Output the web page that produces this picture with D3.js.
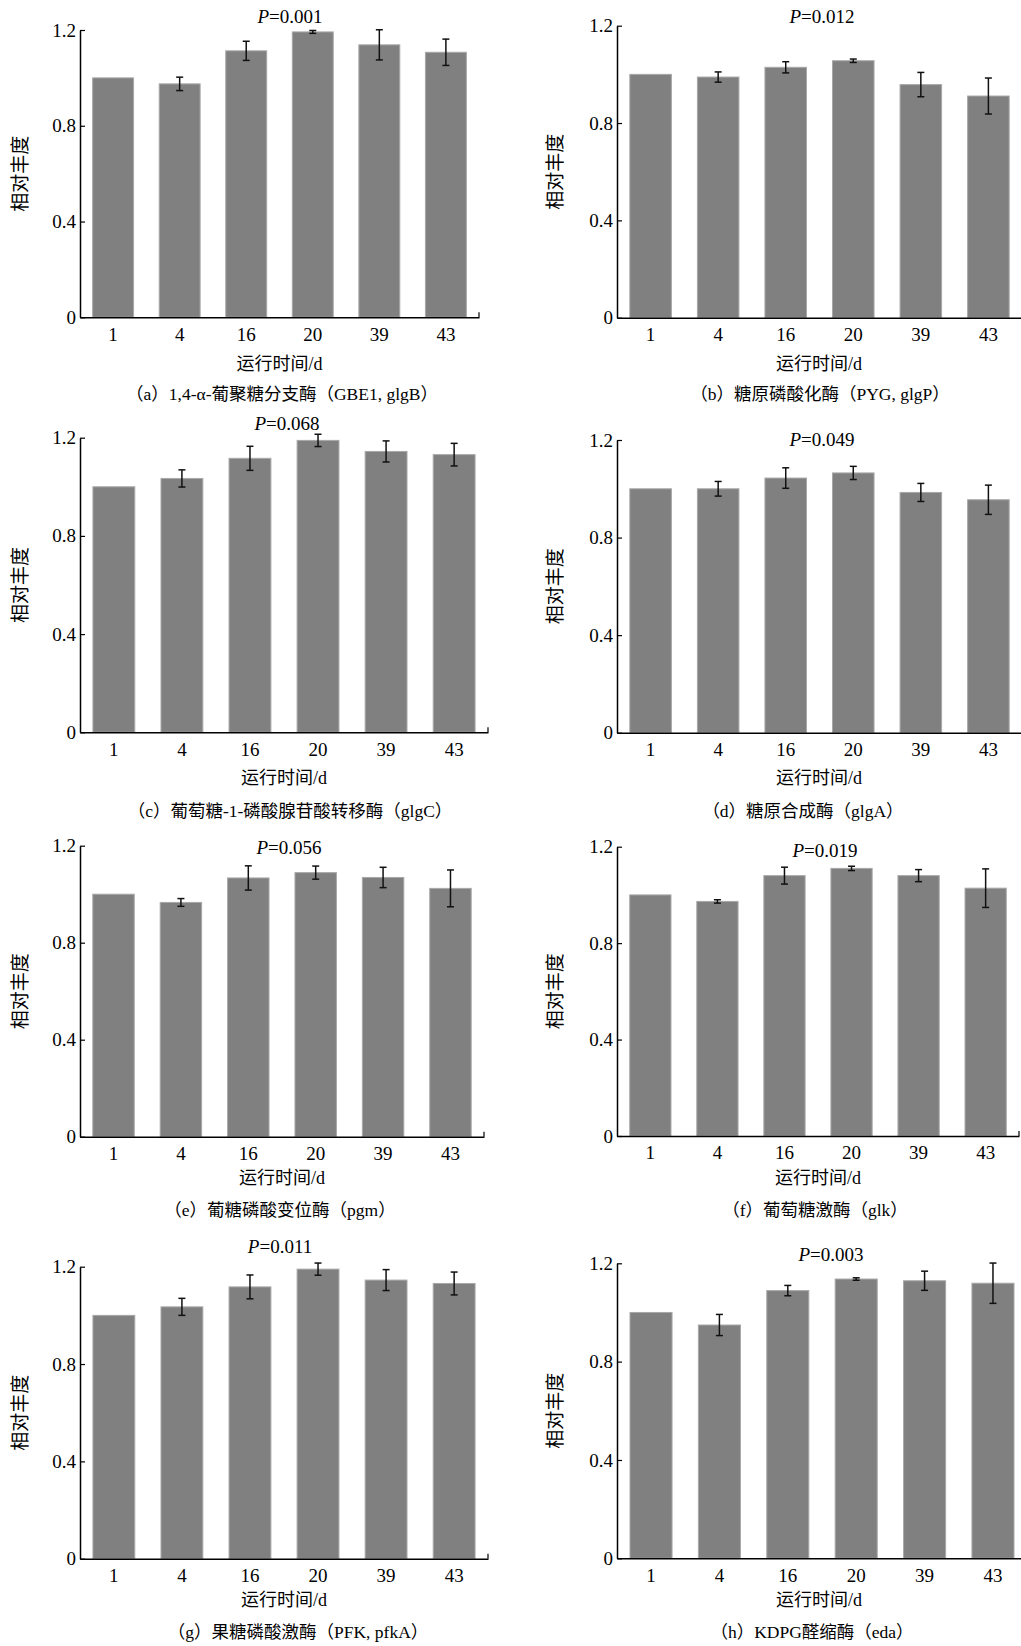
<!DOCTYPE html>
<html>
<head>
<meta charset="utf-8">
<script src="https://cdn.jsdelivr.net/npm/d3@7"></script>
<style>
  body { margin: 0; background: #fff; }
  svg { display: block; }
  text { font-family: "Liberation Serif", "Noto Sans CJK SC", serif; fill: #000; }
</style>
</head>
<body>
<div id="chart"></div>
<script>
// run time (days)
const categories = ['1', '4', '16', '20', '39', '43'];

// relative abundance (mean) and error per enzyme
const valuesA = [1.000, 0.975, 1.113, 1.192, 1.138, 1.107];
const errorsA = [0, 0.028, 0.040, 0.006, 0.063, 0.055];
const valuesB = [1.000, 0.989, 1.029, 1.056, 0.958, 0.911];
const errorsB = [0, 0.021, 0.023, 0.007, 0.050, 0.074];
const valuesC = [1.000, 1.034, 1.116, 1.189, 1.144, 1.131];
const errorsC = [0, 0.035, 0.049, 0.025, 0.043, 0.046];
const valuesD = [1.000, 1.000, 1.044, 1.065, 0.985, 0.955];
const errorsD = [0, 0.030, 0.042, 0.027, 0.037, 0.060];
const valuesE = [1.000, 0.966, 1.067, 1.089, 1.069, 1.024];
const errorsE = [0, 0.016, 0.050, 0.027, 0.042, 0.076];
const valuesF = [1.000, 0.973, 1.080, 1.110, 1.080, 1.028];
const errorsF = [0, 0.007, 0.035, 0.009, 0.025, 0.080];
const valuesG = [1.000, 1.035, 1.117, 1.190, 1.145, 1.131];
const errorsG = [0, 0.035, 0.049, 0.025, 0.043, 0.047];
const valuesH = [1.000, 0.949, 1.089, 1.136, 1.129, 1.119];
const errorsH = [0, 0.043, 0.021, 0.005, 0.039, 0.082];

const pValues = ['0.001', '0.012', '0.068', '0.049', '0.056', '0.019', '0.011', '0.003'];
const captions = [
  '（a）1,4-α-葡聚糖分支酶（GBE1, glgB）',
  '（b）糖原磷酸化酶（PYG, glgP）',
  '（c）葡萄糖-1-磷酸腺苷酸转移酶（glgC）',
  '（d）糖原合成酶（glgA）',
  '（e）葡糖磷酸变位酶（pgm）',
  '（f）葡萄糖激酶（glk）',
  '（g）果糖磷酸激酶（PFK, pfkA）',
  '（h）KDPG醛缩酶（eda）'
];
const yTicks = [0, 0.4, 0.8, 1.2];
const yTitle = '相对丰度';
const xTitle = '运行时间/d';

const series = [
  [valuesA, errorsA], [valuesB, errorsB], [valuesC, errorsC], [valuesD, errorsD],
  [valuesE, errorsE], [valuesF, errorsF], [valuesG, errorsG], [valuesH, errorsH]
];

// panel frames: plot left/right, y of 1.2 and of 0, label positions
const frames = [
  { x0: 80,  x1: 479,  top: 30,     bottom: 317.3,  px: 290, py: 23,   ytx: 20,  xt: 370,  cap: 400, cx: 282 },
  { x0: 617, x1: 1022, top: 25.7,   bottom: 317.7,  px: 822, py: 22.5, ytx: 555, xt: 370,  cap: 400, cx: 820 },
  { x0: 80,  x1: 488,  top: 437.7,  bottom: 732.3,  px: 287, py: 430,  ytx: 20,  xt: 784,  cap: 817, cx: 290 },
  { x0: 617, x1: 1022, top: 440,    bottom: 732.7,  px: 822, py: 446,  ytx: 555, xt: 784,  cap: 817, cx: 803 },
  { x0: 80,  x1: 484,  top: 845.7,  bottom: 1136.7, px: 289, py: 854,  ytx: 20,  xt: 1184, cap: 1216, cx: 280 },
  { x0: 617, x1: 1019, top: 846.7,  bottom: 1136,   px: 825, py: 857,  ytx: 555, xt: 1184, cap: 1216, cx: 815 },
  { x0: 80,  x1: 488,  top: 1266.7, bottom: 1558.7, px: 280, py: 1253, ytx: 20,  xt: 1606, cap: 1638, cx: 298 },
  { x0: 617, x1: 1027, top: 1263.3, bottom: 1558.3, px: 831, py: 1261, ytx: 555, xt: 1606, cap: 1638, cx: 812 }
];

const svg = d3.select('#chart').append('svg')
  .attr('width', 1021)
  .attr('height', 1646);

frames.forEach((f, i) => {
  const [vals, errs] = series[i];
  const data = categories.map((c, k) => ({ cat: c, v: vals[k], e: errs[k] }));

  const x = d3.scaleBand().domain(categories).range([f.x0, f.x1])
    .paddingInner(0.385).paddingOuter(0.19);
  const y = d3.scaleLinear().domain([0, 1.2]).range([f.bottom, f.top]);

  const g = svg.append('g');

  // bars
  g.selectAll('.bar').data(data).enter().append('rect')
    .attr('class', 'bar')
    .attr('x', d => x(d.cat))
    .attr('width', x.bandwidth())
    .attr('y', d => y(d.v))
    .attr('height', d => y(0) - y(d.v))
    .attr('fill', '#808080')
    .attr('stroke', '#a8a8a8')
    .attr('stroke-width', 1);

  // error bars
  const eb = g.selectAll('.err').data(data.filter(d => d.e > 0)).enter().append('g')
    .attr('class', 'err')
    .attr('stroke', '#111')
    .attr('stroke-width', 1.5);
  const cx = d => x(d.cat) + x.bandwidth() / 2;
  eb.append('line').attr('x1', cx).attr('x2', cx)
    .attr('y1', d => y(d.v + d.e)).attr('y2', d => y(d.v - d.e));
  eb.append('line').attr('x1', d => cx(d) - 3.5).attr('x2', d => cx(d) + 3.5)
    .attr('y1', d => y(d.v + d.e)).attr('y2', d => y(d.v + d.e));
  eb.append('line').attr('x1', d => cx(d) - 3.5).attr('x2', d => cx(d) + 3.5)
    .attr('y1', d => y(d.v - d.e)).attr('y2', d => y(d.v - d.e));

  // y axis, inward ticks
  const ya = g.append('g').attr('transform', `translate(${f.x0},0)`)
    .call(d3.axisLeft(y).tickValues(yTicks).tickSize(-5).tickSizeOuter(0)
      .tickFormat(d => d === 0 ? '0' : d3.format('.1f')(d)));
  ya.select('.domain').attr('stroke', '#000').attr('stroke-width', 1.5);
  ya.selectAll('.tick line').attr('stroke', '#000').attr('stroke-width', 1.2);
  ya.selectAll('.tick text').attr('x', -4).style('font-size', '19px')
    .style('font-family', '"Liberation Serif", serif');

  // x axis
  const xa = g.append('g').attr('transform', `translate(0,${f.bottom})`)
    .call(d3.axisBottom(x).tickSize(0).tickPadding(10));
  xa.select('.domain').attr('stroke', '#000').attr('stroke-width', 1.5);
  xa.selectAll('.tick text').style('font-size', '19px')
    .style('font-family', '"Liberation Serif", serif');
  g.append('line')
    .attr('x1', f.x1).attr('x2', f.x1)
    .attr('y1', f.bottom).attr('y2', f.bottom - 5)
    .attr('stroke', '#000').attr('stroke-width', 1.2);

  // P value
  const pt = g.append('text')
    .attr('x', f.px).attr('y', f.py)
    .attr('text-anchor', 'middle')
    .style('font-size', '19px');
  pt.append('tspan').style('font-style', 'italic').text('P');
  pt.append('tspan').text('=' + pValues[i]);

  // y title
  g.append('text')
    .attr('transform', `translate(${f.ytx + 7},${(f.top + f.bottom) / 2}) rotate(-90)`)
    .attr('text-anchor', 'middle')
    .style('font-size', '19px')
    .style('font-family', '"Noto Sans CJK SC", sans-serif')
    .text(yTitle);

  // x title
  g.append('text')
    .attr('x', (f.x0 + Math.min(f.x1, 1021)) / 2).attr('y', f.xt)
    .attr('text-anchor', 'middle')
    .style('font-size', '18px')
    .text(xTitle);

  // caption
  g.append('text')
    .attr('x', f.cx).attr('y', f.cap)
    .attr('text-anchor', 'middle')
    .style('font-size', '17.5px')
    .text(captions[i]);
});
</script>
</body>
</html>
